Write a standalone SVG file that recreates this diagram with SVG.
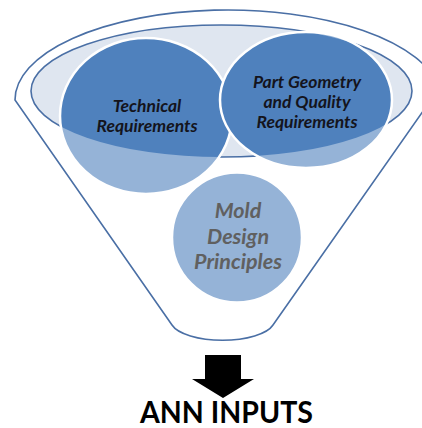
<svg xmlns="http://www.w3.org/2000/svg" width="422" height="428" viewBox="0 0 422 428">
<style>
.funnel{fill:none;stroke:#4a6fa5;stroke-width:1.6}
.rim{fill:#dfe6f0;stroke:#4a6fa5;stroke-width:1.6}
.light{fill:#95b3d7}
.dark{fill:#4f81bd}
.edge{fill:none;stroke:#ffffff;stroke-width:2.5}
.lbl{font-family:Lato,"Liberation Sans",sans-serif;font-weight:bold;font-style:italic;text-anchor:middle;fill:#14141c;font-size:17.5px}
.mold{font-family:Lato,"Liberation Sans",sans-serif;font-weight:bold;font-style:italic;text-anchor:middle;fill:#606060;font-size:21.5px}
.title{font-family:Lato,"Liberation Sans",sans-serif;font-weight:bold;text-anchor:middle;fill:#000;font-size:30px}
</style>
<defs>
<clipPath id="rimclip"><ellipse cx="221.5" cy="91" rx="190.5" ry="66"/></clipPath>
</defs>
<g id="funnel">
<path class="funnel" d="M 15 100 A 212.9 90 0 0 1 439 88.3 L 273 325 A 52 20 0 0 1 172 325 Z"/>
<ellipse class="rim" cx="221.5" cy="91" rx="190.5" ry="66"/>
</g>
<g id="technical">
<ellipse class="light" cx="146" cy="116" rx="86" ry="78"/>
<ellipse class="dark" cx="146" cy="116" rx="86" ry="78" clip-path="url(#rimclip)"/>
<ellipse class="edge" cx="146" cy="116" rx="86" ry="78"/>
<text class="lbl" x="147" y="112">Technical</text>
<text class="lbl" x="147" y="132">Requirements</text>
</g>
<g id="part">
<ellipse class="light" cx="306" cy="100" rx="86" ry="68"/>
<ellipse class="dark" cx="306" cy="100" rx="86" ry="68" clip-path="url(#rimclip)"/>
<ellipse class="edge" cx="306" cy="100" rx="86" ry="68"/>
<text class="lbl" x="307" y="88">Part Geometry</text>
<text class="lbl" x="307" y="108">and Quality</text>
<text class="lbl" x="307" y="128">Requirements</text>
</g>
<g id="mold">
<circle class="light" cx="237" cy="237.5" r="65"/>
<circle class="edge" cx="237" cy="237.5" r="65"/>
<text class="mold" x="238" y="218">Mold</text>
<text class="mold" x="238" y="244">Design</text>
<text class="mold" x="238" y="269">Principles</text>
</g>
<g id="connectors">
<path d="M 205 355 L 241 355 L 241 379 L 254 379 L 223 398 L 192 379 L 205 379 Z" fill="#000"/>
</g>
<g id="output">
<text class="title" x="226.5" y="423" textLength="173" lengthAdjust="spacingAndGlyphs">ANN INPUTS</text>
</g>
</svg>
